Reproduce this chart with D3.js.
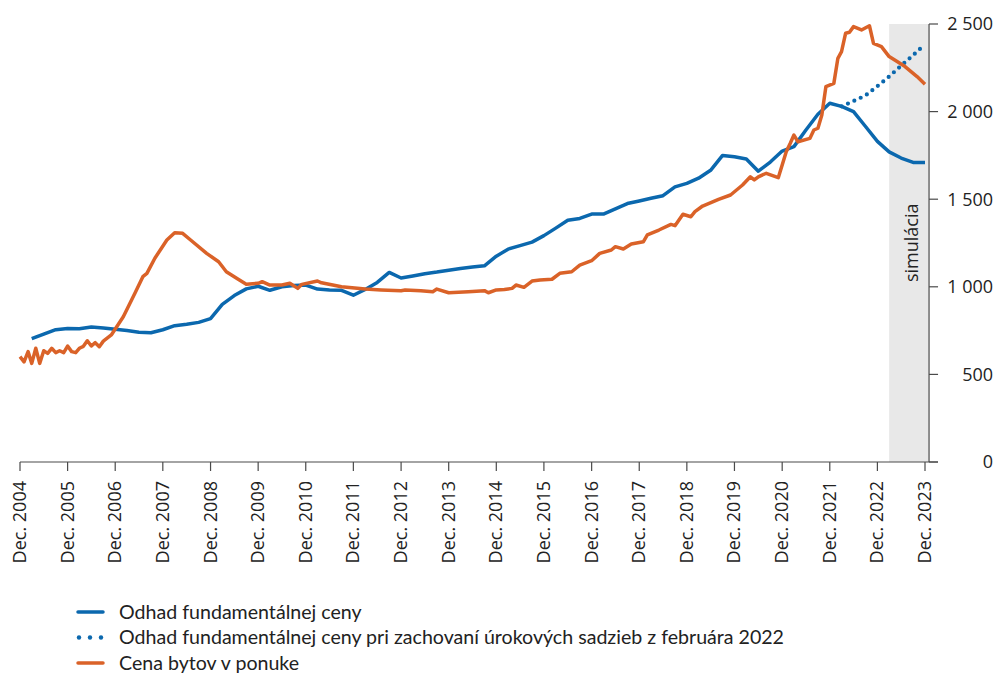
<!DOCTYPE html>
<html>
<head>
<meta charset="utf-8">
<script src="https://cdn.jsdelivr.net/npm/d3@7"></script>
<style>
  html, body { margin: 0; padding: 0; background: #fff; }
  svg { display: block; font-family: "Open Sans", sans-serif; }
  .tick-label { fill: #222; font-size: 18px; }
  .legend-label { fill: #222; font-size: 19.6px; font-family: Lato, "Open Sans", sans-serif; }
</style>
</head>
<body>
<div id="chart"></div>
<script>
// ---------- DATA ----------
// x tick years (labels read "Dec. YYYY")
const TICK_YEARS = [2004, 2005, 2006, 2007, 2008, 2009, 2010, 2011, 2012, 2013,
  2014, 2015, 2016, 2017, 2018, 2019, 2020, 2021, 2022, 2023];
const Y_TICKS = [0, 500, 1000, 1500, 2000, 2500];

// Odhad fundamentálnej ceny - quarterly, first quarter is March 2005
const FUND_START = "2005-03";
const FUND_VALUES = [
  704, 730, 755, 762, 761, 771, 765, 758, 750, 741,
  738, 755, 778, 786, 797, 818, 900, 950, 988, 1003,
  980, 1000, 1008, 1010, 987, 982, 980, 952, 985, 1025,
  1082, 1050, 1062, 1075, 1084, 1095, 1105, 1113, 1120, 1175,
  1215, 1235, 1255, 1292, 1335, 1380, 1390, 1415, 1415, 1445,
  1475, 1490, 1505, 1520, 1570, 1590, 1620, 1665, 1750, 1742,
  1730, 1660, 1712, 1775, 1800, 1895, 1985, 2048, 2030, 2000,
  1915, 1830, 1770, 1735, 1710, 1710
];

// Odhad pri zachovaní sadzieb z februára 2022 - quarterly from March 2022
const RATES_START = "2022-03";
const RATES_VALUES = [2030, 2060, 2092, 2145, 2200, 2262, 2322, 2384];

// Cena bytov v ponuke
const OFFER_DATES = [
  "2004-12", "2005-01", "2005-02", "2005-03", "2005-04", "2005-05", "2005-06", "2005-07",
  "2005-08", "2005-09", "2005-10", "2005-11", "2005-12", "2006-01", "2006-02", "2006-03",
  "2006-04", "2006-05", "2006-06", "2006-07", "2006-08", "2006-09", "2006-11", "2007-02",
  "2007-05", "2007-07", "2007-08", "2007-10", "2008-01", "2008-03", "2008-05", "2008-07",
  "2008-11", "2009-02", "2009-04", "2009-07", "2009-09", "2009-12", "2010-01", "2010-03",
  "2010-06", "2010-08", "2010-10", "2010-11", "2011-03", "2011-04", "2011-09", "2012-03",
  "2012-07", "2012-12", "2013-01", "2013-05", "2013-08", "2013-09", "2013-12", "2014-05",
  "2014-09", "2014-10", "2014-12", "2015-02", "2015-04", "2015-05", "2015-07", "2015-09",
  "2015-11", "2016-02", "2016-04", "2016-07", "2016-09", "2016-12", "2017-02", "2017-05",
  "2017-06", "2017-08", "2017-10", "2018-01", "2018-02", "2018-05", "2018-08", "2018-09",
  "2018-11", "2019-01", "2019-02", "2019-04", "2019-08", "2019-11", "2020-02", "2020-04",
  "2020-05", "2020-06", "2020-08", "2020-11", "2020-12", "2021-01", "2021-02", "2021-03",
  "2021-04", "2021-07", "2021-08", "2021-09", "2021-10", "2021-11", "2022-01", "2022-02",
  "2022-03", "2022-04", "2022-05", "2022-06", "2022-08", "2022-10", "2022-11", "2023-01",
  "2023-03", "2023-07", "2023-10", "2023-12"
];
const OFFER_VALUES = [
  601, 572, 630, 563, 649, 563, 635, 620,
  649, 624, 635, 624, 662, 630, 624, 649,
  660, 692, 662, 681, 658, 690, 725, 829,
  963, 1058, 1077, 1163, 1267, 1309, 1305, 1267,
  1191, 1143, 1086, 1043, 1015, 1020, 1029, 1010,
  1010, 1020, 991, 1014, 1033, 1023, 1000, 987,
  982, 978, 982, 978, 972, 987, 966, 972,
  978, 966, 982, 985, 991, 1010, 997, 1033,
  1039, 1043, 1077, 1086, 1124, 1149, 1191, 1210,
  1229, 1216, 1244, 1257, 1296, 1324, 1356, 1349,
  1414, 1400, 1429, 1461, 1499, 1524, 1581, 1628,
  1610, 1628, 1648, 1623, 1695, 1771, 1819, 1866,
  1828, 1847, 1895, 1905, 1981, 2142, 2161, 2304,
  2342, 2447, 2453, 2485, 2466, 2490, 2390, 2371,
  2314, 2257, 2200, 2156
];

const SIM_START = "2023-03";
const SIM_END = "2024-01";

const LEGEND = [
  { label: "Odhad fundamentálnej ceny", kind: "fund" },
  { label: "Odhad fundamentálnej ceny pri zachovaní úrokových sadzieb z februára 2022", kind: "rates" },
  { label: "Cena bytov v ponuke", kind: "offer" }
];

const BLUE = "#0b68ae";
const ORANGE = "#da6228";
const AXIS = "#4a4a4a";

// ---------- SCAFFOLD ----------
const width = 997, height = 675;
const parseMonth = d3.timeParse("%Y-%m");

const svg = d3.select("#chart").append("svg")
  .attr("width", width)
  .attr("height", height);

const x = d3.scaleTime()
  .domain([parseMonth("2004-12"), parseMonth("2023-12")])
  .range([20, 925]);

const y = d3.scaleLinear()
  .domain([0, 2500])
  .range([462, 24]);

const axisX = x(parseMonth(SIM_END));

// build series
const quarterly = (start, values) => values.map((v, i) => ({
  date: d3.timeMonth.offset(parseMonth(start), i * 3), value: v
}));
const fund = quarterly(FUND_START, FUND_VALUES);
const rates = quarterly(RATES_START, RATES_VALUES);
const offer = OFFER_DATES.map((d, i) => ({ date: parseMonth(d), value: OFFER_VALUES[i] }));

// ---------- SIMULATION SHADE ----------
svg.append("rect")
  .attr("x", x(parseMonth(SIM_START)))
  .attr("y", y(2500))
  .attr("width", axisX - x(parseMonth(SIM_START)))
  .attr("height", y(0) - y(2500))
  .attr("fill", "#e8e8e8");

svg.append("text")
  .attr("class", "tick-label")
  .attr("transform", `translate(${axisX - 11},${282}) rotate(-90)`)
  .attr("text-anchor", "start")
  .text("simulácia");

// ---------- AXES ----------
// x axis
svg.append("line")
  .attr("x1", x(parseMonth("2004-12"))).attr("x2", axisX + 9)
  .attr("y1", y(0)).attr("y2", y(0))
  .attr("stroke", AXIS).attr("stroke-width", 1.2);

const xTicks = svg.append("g").selectAll("g")
  .data(TICK_YEARS)
  .join("g")
  .attr("transform", d => `translate(${x(parseMonth(d + "-12"))},${y(0)})`);

xTicks.append("line")
  .attr("y2", 9)
  .attr("stroke", AXIS).attr("stroke-width", 1.2);

xTicks.append("text")
  .attr("class", "tick-label")
  .attr("transform", "translate(6,19) rotate(-90)")
  .attr("text-anchor", "end")
  .text(d => `Dec. ${d}`);

// y axis on the right
svg.append("line")
  .attr("x1", axisX).attr("x2", axisX)
  .attr("y1", y(2500)).attr("y2", y(0))
  .attr("stroke", AXIS).attr("stroke-width", 1.2);

const fmt = d3.formatLocale({ decimal: ",", thousands: "\u2009", grouping: [3], currency: ["", ""] }).format(",");

const yTicks = svg.append("g").selectAll("g")
  .data(Y_TICKS)
  .join("g")
  .attr("transform", d => `translate(${axisX},${y(d)})`);

yTicks.append("line")
  .attr("x2", 9)
  .attr("stroke", AXIS).attr("stroke-width", 1.2);

yTicks.append("text")
  .attr("class", "tick-label")
  .attr("x", 64)
  .attr("dy", "0.35em")
  .attr("text-anchor", "end")
  .text(d => fmt(d).replace("\u2009", " "));

// ---------- LINES ----------
const line = d3.line()
  .x(d => x(d.date))
  .y(d => y(d.value));

svg.append("path")
  .datum(fund)
  .attr("d", line)
  .attr("fill", "none")
  .attr("stroke", BLUE)
  .attr("stroke-width", 3.5)
  .attr("stroke-linejoin", "round");

svg.append("path")
  .datum(rates)
  .attr("d", line)
  .attr("fill", "none")
  .attr("stroke", BLUE)
  .attr("stroke-width", 4.2)
  .attr("stroke-linecap", "round")
  .attr("stroke-dasharray", "0 7");

svg.append("path")
  .datum(offer)
  .attr("d", line)
  .attr("fill", "none")
  .attr("stroke", ORANGE)
  .attr("stroke-width", 3.5)
  .attr("stroke-linejoin", "round");

// ---------- LEGEND ----------
const legend = svg.append("g").selectAll("g")
  .data(LEGEND)
  .join("g")
  .attr("transform", (d, i) => `translate(0,${612 + i * 25.5})`);

legend.each(function (d) {
  const gg = d3.select(this);
  if (d.kind === "rates") {
    gg.selectAll("circle")
      .data([79, 90, 101])
      .join("circle")
      .attr("cx", c => c).attr("cy", 0)
      .attr("r", 2.2)
      .attr("fill", BLUE);
  } else {
    gg.append("line")
      .attr("x1", 78).attr("x2", 103)
      .attr("stroke", d.kind === "fund" ? BLUE : ORANGE)
      .attr("stroke-width", 3.5)
      .attr("stroke-linecap", "round");
  }
});

legend.append("text")
  .attr("class", "legend-label")
  .attr("x", 119)
  .attr("dy", "0.35em")
  .text(d => d.label);
</script>
</body>
</html>
